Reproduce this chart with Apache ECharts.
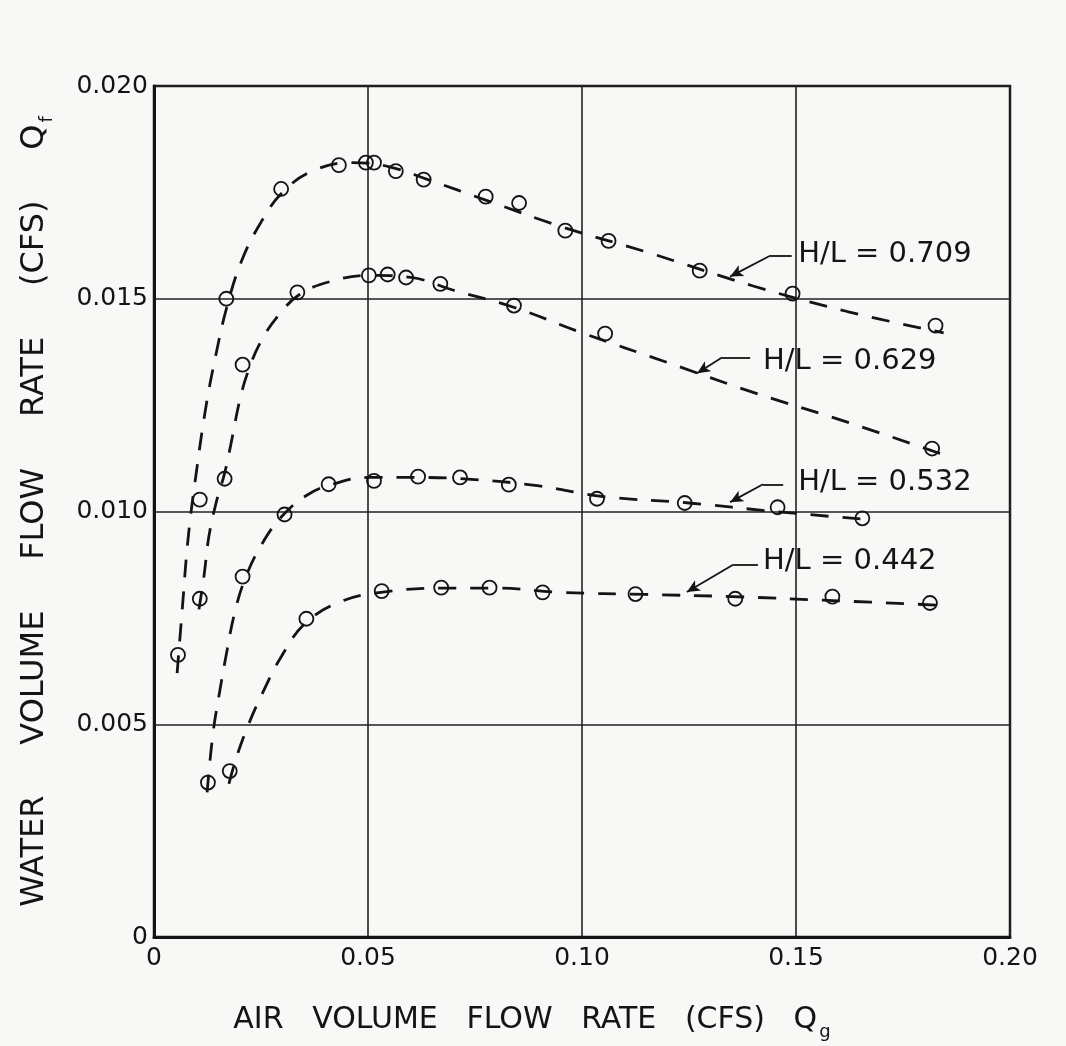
<!DOCTYPE html>
<html>
<head>
<meta charset="utf-8">
<title>Water vs air volume flow rate</title>
<script src="https://cdn.jsdelivr.net/npm/echarts@6/dist/echarts.min.js"></script>
<style>
  html, body { margin: 0; padding: 0; background: #f8f8f6; }
  #chart { width: 1066px; height: 1046px; }
</style>
</head>
<body>
<div id="chart"></div>
<script>
// Measured points: air flow Qg (cfs) and water flow Qf (cfs) for each H/L ratio
const qg709 = [0.0056, 0.0107, 0.0169, 0.0297, 0.0432, 0.0495, 0.0514, 0.0565, 0.0630, 0.0775, 0.0853, 0.0961, 0.1062, 0.1275, 0.1492, 0.1826];
const qf709 = [0.00663, 0.01028, 0.0150, 0.01758, 0.01814, 0.0182, 0.0182, 0.0180, 0.0178, 0.0174, 0.01725, 0.0166, 0.01636, 0.01566, 0.01512, 0.01437];

const qg629 = [0.0107, 0.0165, 0.0207, 0.0335, 0.0502, 0.0546, 0.0589, 0.0669, 0.0841, 0.1054, 0.1818];
const qf629 = [0.00795, 0.01077, 0.01345, 0.01515, 0.01555, 0.01557, 0.0155, 0.01535, 0.01484, 0.01418, 0.01148];

const qg532 = [0.0126, 0.0207, 0.0305, 0.0408, 0.0514, 0.0617, 0.0715, 0.0829, 0.1035, 0.1240, 0.1457, 0.1655];
const qf532 = [0.00363, 0.00847, 0.00993, 0.01064, 0.01072, 0.01082, 0.0108, 0.01063, 0.0103, 0.0102, 0.0101, 0.00984];

const qg442 = [0.0177, 0.0356, 0.0532, 0.0671, 0.0784, 0.0908, 0.1125, 0.1358, 0.1585, 0.1813];
const qf442 = [0.0039, 0.00748, 0.00813, 0.00821, 0.00821, 0.0081, 0.00806, 0.00795, 0.0080, 0.00785];

// Hand-faired curves through each data set, as [Qg, Qf]
const curve709 = [[0.0054,0.0062],[0.0066,0.0077],[0.0080,0.0094],[0.0100,0.0110],[0.0122,0.0125],[0.0145,0.0137],[0.0170,0.0148],[0.0205,0.0159],[0.0250,0.0168],[0.0300,0.0175],[0.0370,0.0180],[0.0460,0.0182],[0.0550,0.0181],[0.0640,0.0178],[0.0780,0.0173],[0.0950,0.0167],[0.1150,0.0161],[0.1400,0.0153],[0.1620,0.0147],[0.1845,0.0142]];
const curve629 = [[0.0105,0.0077],[0.0117,0.0085],[0.0128,0.0094],[0.0145,0.0102],[0.0165,0.0109],[0.0182,0.0117],[0.0200,0.0126],[0.0220,0.0133],[0.0250,0.0140],[0.0290,0.0146],[0.0340,0.0151],[0.0410,0.0154],[0.0500,0.01555],[0.0600,0.0155],[0.0700,0.0152],[0.0840,0.0148],[0.1000,0.0142],[0.1200,0.0135],[0.1400,0.0128],[0.1620,0.0121],[0.1840,0.01135]];
const curve532 = [[0.0124,0.0034],[0.0138,0.0048],[0.0154,0.0058],[0.0170,0.0067],[0.0188,0.0076],[0.0212,0.0084],[0.0250,0.0092],[0.0300,0.0099],[0.0360,0.0104],[0.0420,0.01065],[0.0500,0.0108],[0.0620,0.0108],[0.0750,0.01075],[0.0900,0.0106],[0.1050,0.01035],[0.1250,0.0102],[0.1450,0.0100],[0.1680,0.0098]];
const curve442 = [[0.0175,0.0036],[0.0192,0.0042],[0.0217,0.0049],[0.0252,0.0057],[0.0298,0.0066],[0.0356,0.0074],[0.0441,0.0079],[0.0530,0.0081],[0.0670,0.0082],[0.0800,0.0082],[0.0950,0.0081],[0.1150,0.00805],[0.1350,0.0080],[0.1600,0.0079],[0.1830,0.0078]];

// Curve names and tick labels
const ratioNames = ['H/L = 0.709', 'H/L = 0.629', 'H/L = 0.532', 'H/L = 0.442'];
const xTickLabels = ['0', '0.05', '0.10', '0.15', '0.20'];
const yTickLabels = ['0', '0.005', '0.010', '0.015', '0.020'];

// Where each curve name sits and how its leader runs (data units)
const nameAnchors = [[0.1505, 0.01604], [0.1423, 0.01353], [0.1505, 0.01069], [0.1423, 0.00882]];
const leaderRuns = [
  [[0.1490, 0.01600], [0.1437, 0.01600], [0.1346, 0.01552]],
  [[0.1393, 0.01362], [0.1327, 0.01362], [0.1269, 0.01325]],
  [[0.1470, 0.01064], [0.1423, 0.01064], [0.1346, 0.01022]],
  [[0.1411, 0.00875], [0.1353, 0.00875], [0.1245, 0.00811]]
];

const FONT = '"DejaVu Sans", "Liberation Sans", sans-serif';
const INK = '#141414';

const zip = (xs, ys) => xs.map((x, i) => [x, ys[i]]);

function curveSeries(data) {
  return {
    type: 'line',
    data: data,
    showSymbol: false,
    smooth: 0.4,
    silent: true,
    z: 2,
    lineStyle: { color: INK, width: 2.8, type: [18, 14], cap: 'butt', opacity: 1 }
  };
}

function pointSeries(xs, ys) {
  return {
    type: 'scatter',
    data: zip(xs, ys),
    symbol: 'circle',
    symbolSize: 14,
    silent: true,
    z: 3,
    itemStyle: { color: 'rgba(0,0,0,0)', borderColor: INK, borderWidth: 1.8, opacity: 1 }
  };
}

const leaderLines = [];
leaderRuns.forEach(run => {
  leaderLines.push([{ coord: run[0], symbol: 'none' }, { coord: run[1], symbol: 'none' }]);
  leaderLines.push([{ coord: run[1], symbol: 'none' }, { coord: run[2], symbol: 'arrow', symbolSize: [9, 13] }]);
});

const subRich = {
  sub: { fontSize: 18, fontFamily: FONT, color: INK, verticalAlign: 'bottom', lineHeight: 42, padding: [0, 0, 0, 2] }
};

const option = {
  backgroundColor: '#f8f8f6',
  animation: false,
  grid: {
    left: 154, top: 86, width: 856, height: 853,
    show: true, borderColor: INK, borderWidth: 2.5, backgroundColor: 'rgba(0,0,0,0)'
  },
  xAxis: {
    type: 'value', min: 0, max: 0.20, interval: 0.05,
    axisLine: { show: true, onZero: false, lineStyle: { color: INK, width: 3 } },
    axisTick: { show: false },
    splitLine: { show: true, lineStyle: { color: '#222', width: 1.6 } },
    axisLabel: {
      margin: 9, fontSize: 25, fontFamily: FONT, color: INK,
      formatter: v => xTickLabels[Math.round(v / 0.05)]
    },
    name: 'AIR   VOLUME   FLOW   RATE   (CFS)   Q{sub|g}',
    nameLocation: 'middle', nameGap: 62,
    nameTextStyle: { fontSize: 30, fontFamily: FONT, color: INK, lineHeight: 32, padding: [0, 100, 0, 0], rich: subRich }
  },
  yAxis: {
    type: 'value', min: 0, max: 0.020, interval: 0.005,
    axisLine: { show: true, onZero: false, lineStyle: { color: INK, width: 3 } },
    axisTick: { show: false },
    splitLine: { show: true, lineStyle: { color: '#222', width: 1.6 } },
    axisLabel: {
      margin: 6, fontSize: 25, fontFamily: FONT, color: INK,
      formatter: v => yTickLabels[Math.round(v / 0.005)]
    },
    name: 'WATER     VOLUME     FLOW     RATE     (CFS)     Q{sub|f}',
    nameLocation: 'middle', nameGap: 98, nameRotate: 90,
    nameTextStyle: { fontSize: 32, fontFamily: FONT, color: INK, lineHeight: 32, rich: subRich }
  },
  series: [
    curveSeries(curve709),
    curveSeries(curve629),
    curveSeries(curve532),
    curveSeries(curve442),
    pointSeries(qg709, qf709),
    pointSeries(qg629, qf629),
    pointSeries(qg532, qf532),
    pointSeries(qg442, qf442),
    {
      type: 'scatter',
      data: nameAnchors,
      symbolSize: 0,
      silent: true,
      z: 4,
      itemStyle: { opacity: 1 },
      label: {
        show: true, position: 'right', distance: 0,
        fontSize: 29, fontFamily: FONT, color: INK, opacity: 1,
        formatter: p => ratioNames[p.dataIndex]
      },
      markLine: {
        silent: true,
        animation: false,
        symbol: ['none', 'none'],
        label: { show: false },
        lineStyle: { type: 'solid', color: INK, width: 1.8, opacity: 1 },
        data: leaderLines
      }
    }
  ]
};

const chart = echarts.init(document.getElementById('chart'), null, { renderer: 'canvas' });
chart.setOption(option);
</script>
</body>
</html>
